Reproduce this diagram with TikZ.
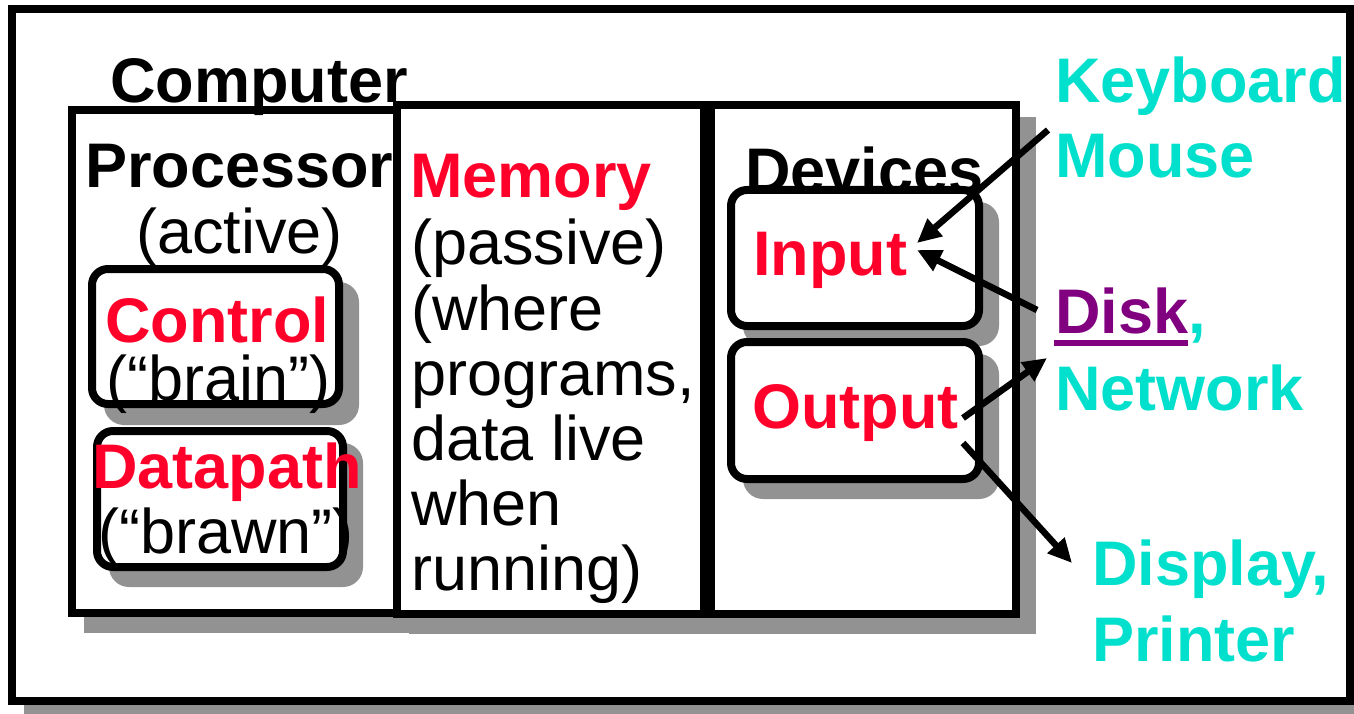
\documentclass[tikz,border=0pt]{standalone}
\usepackage{fontspec}
\setmainfont{Liberation Sans}
\usetikzlibrary{arrows.meta}
\definecolor{ttred}{RGB}{255,0,43}
\definecolor{ttcyan}{RGB}{0,224,204}
\definecolor{ttpurple}{RGB}{128,0,128}
\definecolor{ttshadow}{RGB}{146,146,146}
\begin{document}
\begin{tikzpicture}[x=1pt,y=-1pt,
  txt/.style={anchor=base west, inner sep=0pt, font=\fontsize{63}{66}\selectfont},
  btxt/.style={anchor=base west, inner sep=0pt, font=\fontsize{63}{66}\selectfont\bfseries},
  shade/.style={fill=ttshadow, draw=none},
  rshade/.style={fill=ttshadow, draw=none, rounded corners=20pt},
  bigbox/.style={draw=black, fill=white, line width=8pt},
  smallbox/.style={draw=black, fill=white, line width=8pt, rounded corners=16pt},
  arr/.style={draw=black, line width=6.5pt, -{Triangle[length=24pt,width=22pt]}}]
\useasboundingbox (0,0) rectangle (1354,714);
\begin{scope}
\clip (0,0) rectangle (1354,714);
% outer frame
\fill[white] (0,0) rectangle (1354,714);
\path[shade] (24,21) rectangle (1380,730);
\draw[bigbox] (12,9) rectangle (1350,701);
% big box shadows
\path[shade] (84,122) rectangle (417,633);
\path[shade] (409,117.5) rectangle (724,634);
\path[shade] (722.5,117.5) rectangle (1036,634);
% big boxes
\draw[bigbox] (72,110) rectangle (397,613);
\draw[bigbox] (397,105.5) rectangle (704,614);
\draw[bigbox] (710.5,105.5) rectangle (1016,614);
\end{scope}
% titles
\node[btxt] (computer) at (110,103) {Computer};
\node[btxt] (processor) at (85,188) {Processor};
\node[txt] (active) at (136,253) {(active)};
\node[btxt] (devices) at (745,193) {Devices};
% control / datapath
\path[rshade] (104,282) rectangle (359,425);
\draw[smallbox] (92,269) rectangle (339,404);
\path[rshade] (109,443) rectangle (363,587);
\draw[smallbox] (97,431) rectangle (343,567);
\node[btxt, text=ttred] (control) at (105,342) {Control};
\node[txt] (brain) at (106,400) {(“brain”)};
\node[btxt, text=ttred] (datapath) at (92,488) {Datapath};
\node[txt] (brawn) at (98,553) {(“brawn”)};
% memory
\node[btxt, text=ttred] (memory) at (410,198) {Memory};
\node[txt] (mem1) at (411,264) {(passive)};
\node[txt] (mem2) at (411,330) {(where};
\node[txt] (mem3) at (411,395) {programs,};
\node[txt] (mem4) at (411,460) {data live};
\node[txt] (mem5) at (411,525) {when};
\node[txt] (mem6) at (411,590) {running)};
% input / output
\path[rshade] (743,202) rectangle (999,346);
\draw[smallbox] (731,190) rectangle (979,326);
\path[rshade] (743,354) rectangle (999,499);
\draw[smallbox] (731,342) rectangle (979,479);
\node[btxt, text=ttred] (input) at (753,275) {Input};
\node[btxt, text=ttred] (output) at (752,428) {Output};
% external devices
\node[btxt, text=ttcyan] (keyboard) at (1055,103) {Keyboard};
\node[btxt, text=ttcyan] (mouse) at (1055,178) {Mouse};
\node[btxt, text=ttpurple] (disk) at (1055,333) {Disk};
\node[btxt, text=ttcyan] (diskcomma) at (disk.base east) {,};
\draw[ttpurple, line width=6pt] ([xshift=-1pt,yshift=-10pt]disk.base west) -- ([yshift=-10pt]disk.base east);
\node[btxt, text=ttcyan] (network) at (1055,410) {Network};
\node[btxt, text=ttcyan] (display) at (1092,585) {Display,};
\node[btxt, text=ttcyan] (printer) at (1092,661) {Printer};
% arrows
\coordinate (kbTail) at (1048,130);
\coordinate (kbTip) at (917,243);
\coordinate (dkTail) at (1037,310);
\coordinate (dkTip) at (917,250);
\coordinate (ntTail) at (963,418);
\coordinate (ntTip) at (1047,358);
\coordinate (dpTail) at (963,443);
\coordinate (dpTip) at (1072,563);
\draw[arr] (kbTail) -- (kbTip);
\draw[arr] (dkTail) -- (dkTip);
\draw[arr] (ntTail) -- (ntTip);
\draw[arr] (dpTail) -- (dpTip);
\end{tikzpicture}
\end{document}
